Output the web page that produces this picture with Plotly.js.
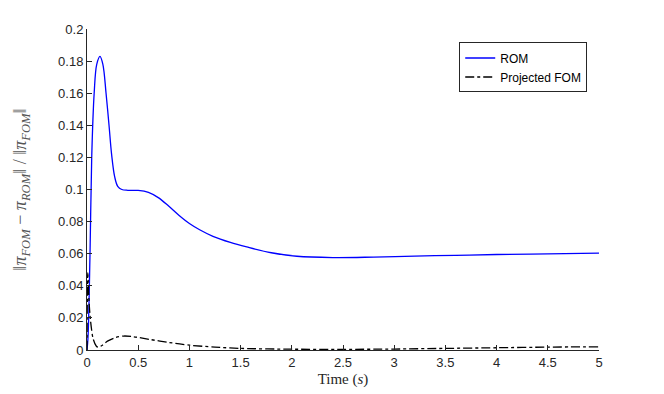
<!DOCTYPE html>
<html>
<head>
<meta charset="utf-8">
<script src="https://cdn.plot.ly/plotly-3.0.1.min.js"></script>
<style>
  html, body { margin: 0; padding: 0; background: #fff; }
  #chart { width: 664px; height: 394px; }
</style>
</head>
<body>
<div id="chart"></div>
<script>
// ROM error vs time
const romT = [0, 0.01, 0.03, 0.046, 0.07, 0.095, 0.127, 0.155, 0.186, 0.215, 0.24, 0.27, 0.3, 0.34, 0.4, 0.5, 0.6, 0.7, 0.8, 0.9, 1.0, 1.1, 1.23, 1.4, 1.56, 1.8, 2.05, 2.4, 2.8, 3.2, 3.6, 4.0, 4.5, 5.0];
const romErr = [0, 0.008, 0.062, 0.12, 0.16, 0.178, 0.183, 0.178, 0.16, 0.14, 0.122, 0.108, 0.102, 0.1, 0.0995, 0.0994, 0.0982, 0.0948, 0.0895, 0.0838, 0.0788, 0.0749, 0.0708, 0.067, 0.0642, 0.0606, 0.0584, 0.0576, 0.0579, 0.0585, 0.059, 0.0595, 0.0599, 0.0603];

// Projected FOM error vs time
const fomT = [0, 0.008, 0.02, 0.035, 0.06, 0.09, 0.11, 0.15, 0.2, 0.28, 0.36, 0.45, 0.62, 0.8, 1.0, 1.25, 1.5, 2.0, 2.5, 3.0, 3.5, 4.0, 4.5, 5.0];
const fomErr = [0, 0.048, 0.03, 0.018, 0.007, 0.0025, 0.0017, 0.003, 0.0055, 0.0078, 0.0087, 0.0083, 0.0065, 0.0047, 0.003, 0.0018, 0.001, 0.0005, 0.0004, 0.0006, 0.001, 0.0014, 0.0018, 0.002];

const xTicks = [0, 0.5, 1, 1.5, 2, 2.5, 3, 3.5, 4, 4.5, 5];
const xTickText = ['0', '0.5', '1', '1.5', '2', '2.5', '3', '3.5', '4', '4.5', '5'];
const yTicks = [0, 0.02, 0.04, 0.06, 0.08, 0.1, 0.12, 0.14, 0.16, 0.18, 0.2];
const yTickText = ['0', '0.02', '0.04', '0.06', '0.08', '0.1', '0.12', '0.14', '0.16', '0.18', '0.2'];

const axisCommon = {
  showline: true, linecolor: '#262626', linewidth: 1, mirror: false,
  ticks: 'inside', ticklen: 5, tickwidth: 1, tickcolor: '#262626',
  showgrid: false, zeroline: false,
  tickfont: {family: 'Liberation Sans, Arial, sans-serif', size: 13, color: '#262626'}
};

const traces = [
  {x: romT, y: romErr, mode: 'lines', name: 'ROM',
   line: {color: '#0000ff', width: 1.3, shape: 'spline', smoothing: 1}},
  {x: fomT, y: fomErr, mode: 'lines', name: 'Projected FOM',
   line: {color: '#000000', width: 1.3, dash: 'dashdot', shape: 'spline', smoothing: 0.8}}
];

const layout = {
  width: 664, height: 394,
  paper_bgcolor: '#fff', plot_bgcolor: '#fff',
  margin: {l: 87, r: 65, t: 29, b: 44},
  showlegend: true,
  legend: {
    x: 0.977, xanchor: 'right', y: 0.958, yanchor: 'top',
    bordercolor: '#262626', borderwidth: 1, bgcolor: '#fff',
    font: {family: 'Liberation Sans, Arial, sans-serif', size: 12, color: '#000'},
    tracegroupgap: 0
  },
  xaxis: {...axisCommon, range: [0, 5], tickvals: xTicks, ticktext: xTickText,
    title: {text: 'Time (<i>s</i>)', standoff: 4,
      font: {family: 'Liberation Serif, DejaVu Serif, serif', size: 15, color: '#262626'}}},
  yaxis: {...axisCommon, range: [0, 0.2], tickvals: yTicks, ticktext: yTickText,
    title: {text: '‖<i>π</i><sub><i>FOM</i></sub> − <i>π</i><sub><i>ROM</i></sub>‖ / ‖<i>π</i><sub><i>FOM</i></sub>‖', standoff: 26,
      font: {family: 'Liberation Serif, DejaVu Serif, serif', size: 18, color: '#555'}}}
};

Plotly.newPlot('chart', traces, layout, {displayModeBar: false, staticPlot: true});
</script>
</body>
</html>
